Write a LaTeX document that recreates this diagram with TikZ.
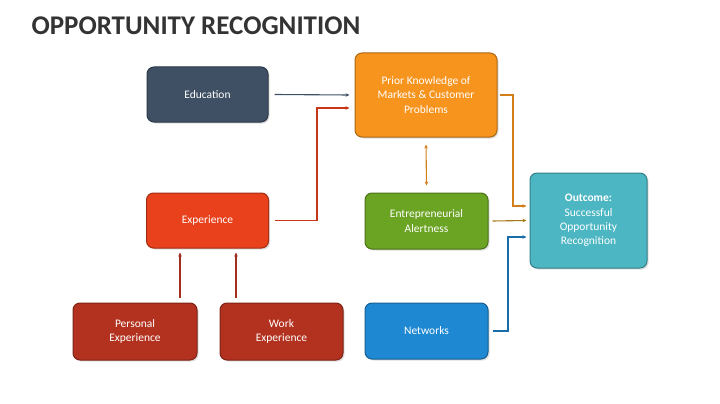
\documentclass[tikz,border=0pt]{standalone}
\usepackage{fontspec}
\setmainfont{Carlito}
\usetikzlibrary{shadows,arrows.meta,positioning}
\definecolor{cEdu}{HTML}{3F5064}
\definecolor{cPrior}{HTML}{F7941D}
\definecolor{cExp}{HTML}{E8411C}
\definecolor{cSub}{HTML}{B3321F}
\definecolor{cAlert}{HTML}{6BA323}
\definecolor{cOut}{HTML}{4CB6C2}
\definecolor{cNet}{HTML}{1F88D2}
\definecolor{cTitle}{HTML}{333333}
\tikzset{
  box/.style={rounded corners=7pt, draw=#1!70!black, line width=1pt, fill=#1,
    text=white, font=\fontsize{11.5}{14.3}\selectfont, align=center, inner sep=0pt,
    drop shadow={shadow xshift=1.5pt, shadow yshift=-1.5pt, opacity=0.25}},
  conn/.style={line width=1.1pt, -{Stealth[length=4pt,width=3.5pt]}},
}
\begin{document}
\begin{tikzpicture}[x=1pt,y=-1pt]
\useasboundingbox[fill=white] (0,0) rectangle (720,404);
\node[anchor=west, font=\bfseries\fontsize{27}{30}\selectfont, text=cTitle] (title) at (28,25.5) {OPPORTUNITY RECOGNITION};

\node[box=cEdu, minimum width=121pt, minimum height=55pt] (edu) at (207.5,94.5) {Education};
\node[box=cPrior, minimum width=142pt, minimum height=84pt] (prior) at (426,95) {Prior Knowledge of\\Markets \& Customer\\Problems};
\node[box=cExp, minimum width=122pt, minimum height=55pt] (exp) at (207.5,220.5) {Experience};
\node[box=cSub, minimum width=124pt, minimum height=57pt] (pers) at (135,331.5) {Personal\\Experience};
\node[box=cSub, minimum width=123pt, minimum height=57pt] (work) at (281.5,331.5) {Work\\Experience};
\node[box=cAlert, minimum width=123pt, minimum height=56pt] (alert) at (426.5,221) {Entrepreneurial\\Alertness};
\node[box=cOut, minimum width=117pt, minimum height=95pt] (out) at (588.5,220.5) {\textbf{Outcome:}\\Successful\\Opportunity\\Recognition};
\node[box=cNet, minimum width=123pt, minimum height=56pt] (net) at (426.5,331) {Networks};

\coordinate (e1) at ([xshift=6pt]edu.east);
\coordinate (p1) at ([xshift=-5pt]prior.west);
\draw[conn, draw=cEdu] (e1) -- (p1);

\coordinate (x1) at ([xshift=6pt]exp.east);
\coordinate (p2) at ([xshift=-5pt,yshift=-13pt]prior.west);
\draw[conn, draw=cExp!85!black] (x1) -| (317,108) -- (p2);

\coordinate (p3) at ([xshift=2pt]prior.east);
\coordinate (o1) at ([xshift=-3pt]out.west |- 0,206);
\draw[conn, draw=cPrior!85!black] (p3) -| (513,206) -- (o1);

\coordinate (p4) at ([yshift=-7pt]prior.south);
\coordinate (a1) at ([yshift=7pt]alert.north);
\draw[line width=1.1pt, draw=cPrior!85!black, {Stealth[length=4pt,width=3.5pt]}-{Stealth[length=4pt,width=3.5pt]}] (p4) -- (a1);

\coordinate (a2) at ([xshift=4pt]alert.east);
\coordinate (o2) at ([xshift=-3pt]out.west);
\draw[conn, draw=cPrior!70!cAlert!80!black] (a2) -- (o2);

\coordinate (n1) at ([xshift=4pt]net.east);
\coordinate (o3) at ([xshift=-3pt]out.west |- 0,237);
\draw[conn, draw=cNet!80!black] (n1) -| (508,237) -- (o3);

\coordinate (ps) at ([yshift=5pt]pers.north -| 180,0);
\coordinate (pe) at ([yshift=-4pt]exp.south -| 180,0);
\draw[conn, draw=cSub!90!black] (ps) -- (pe);
\coordinate (ws) at ([yshift=5pt]work.north -| 236,0);
\coordinate (we) at ([yshift=-4pt]exp.south -| 236,0);
\draw[conn, draw=cSub!90!black] (ws) -- (we);
\end{tikzpicture}
\end{document}
